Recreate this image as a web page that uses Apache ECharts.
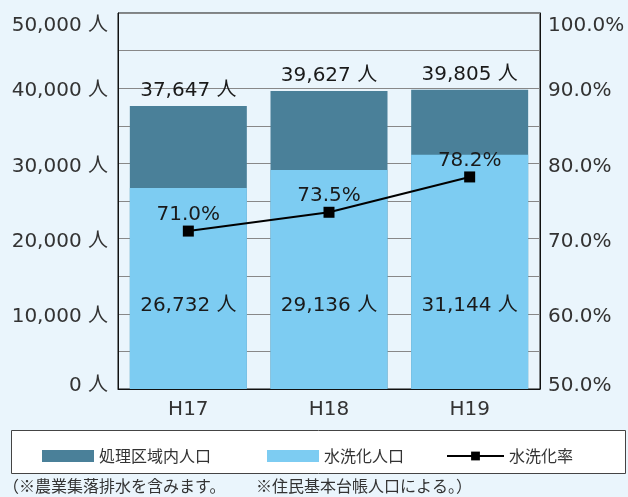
<!DOCTYPE html>
<html>
<head>
<meta charset="utf-8">
<script src="https://cdn.jsdelivr.net/npm/echarts@6/dist/echarts.min.js"></script>
<style>
  html, body { margin: 0; padding: 0; background: #eaf5fc; }
  #chart { width: 628px; height: 497px; }
</style>
</head>
<body>
<div id="chart"></div>
<script>
// data
var years = ['H17', 'H18', 'H19'];
var areaPop = [37647, 39627, 39805];   // 処理区域内人口
var flushPop = [26732, 29136, 31144];  // 水洗化人口
var flushRate = [71.0, 73.5, 78.2];    // 水洗化率 (%)

var numFont = "'DejaVu Sans', 'Noto Sans CJK JP', sans-serif";
var jpFont = "'Noto Sans CJK JP', sans-serif";

function fmtPeople(v) {
  return v.toLocaleString('en-US') + ' 人';
}

// nudge the end labels inward like the original
function tickLabel(text, v, min, max) {
  if (v === max) return '{hi|' + text + '}';
  if (v === min) return '{lo|' + text + '}';
  return '{mid|' + text + '}';
}
var tickRich = {
  hi: { padding: [26, 0, 0, 0] },
  mid: { padding: [6, 0, 0, 0] },
  lo: { padding: [0, 0, 6, 0] }
};

var chart = echarts.init(document.getElementById('chart'));
chart.setOption({
  backgroundColor: '#eaf5fc',
  animation: false,
  grid: {
    left: 118, right: 88, top: 13, bottom: 108,
    show: true,
    borderColor: '#111',
    borderWidth: 1
  },
  legend: [
    {
      data: ['処理区域内人口'], left: 37, top: 443, icon: 'rect',
      itemWidth: 52, itemHeight: 12,
      textStyle: { fontFamily: jpFont, fontSize: 16, color: '#333' }
    },
    {
      data: ['水洗化人口'], left: 262, top: 443, icon: 'rect',
      itemWidth: 52, itemHeight: 12,
      textStyle: { fontFamily: jpFont, fontSize: 16, color: '#333' }
    },
    {
      data: ['水洗化率'], left: 441, top: 443,
      itemWidth: 57, itemHeight: 11,
      textStyle: { fontFamily: jpFont, fontSize: 16, color: '#333' }
    }
  ],
  graphic: [
    {
      type: 'rect', z: -1, left: 11, top: 430,
      shape: { width: 614, height: 43 },
      style: { fill: '#fff', stroke: '#444', lineWidth: 1 }
    },
    {
      type: 'text', left: 3, top: 478,
      style: { text: '（※農業集落排水を含みます。', font: '16px ' + jpFont, fill: '#333' }
    },
    {
      type: 'text', left: 256, top: 478,
      style: { text: '※住民基本台帳人口による。）', font: '16px ' + jpFont, fill: '#333' }
    }
  ],
  xAxis: {
    type: 'category',
    data: years,
    axisLine: { lineStyle: { color: '#111' } },
    axisTick: { inside: true, length: 6, lineStyle: { color: '#111' } },
    axisLabel: { fontFamily: numFont, fontSize: 20, color: '#333', margin: 11 }
  },
  yAxis: [
    {
      type: 'value', min: 0, max: 50000, interval: 10000,
      axisLine: { show: true, lineStyle: { color: '#111' } },
      axisTick: { show: false },
      splitLine: { lineStyle: { color: '#888' } },
      minorTick: { show: false, splitNumber: 2 },
      minorSplitLine: { show: true, lineStyle: { color: '#888' } },
      axisLabel: {
        fontFamily: numFont, fontSize: 20, color: '#333', margin: 10,
        rich: tickRich,
        formatter: function (v) { return tickLabel(fmtPeople(v), v, 0, 50000); }
      }
    },
    {
      type: 'value', min: 50, max: 100, interval: 10,
      axisLine: { show: true, lineStyle: { color: '#111' } },
      axisTick: { show: false },
      splitLine: { show: false },
      axisLabel: {
        fontFamily: numFont, fontSize: 20, color: '#333', margin: 8,
        rich: tickRich,
        formatter: function (v) { return tickLabel(v.toFixed(1) + '%', v, 50, 100); }
      }
    }
  ],
  series: [
    {
      name: '処理区域内人口',
      type: 'bar',
      data: areaPop,
      barWidth: 117,
      barGap: '-100%',
      itemStyle: { color: '#4a8099' },
      label: {
        show: true, position: 'top', distance: 5,
        fontFamily: numFont, fontSize: 20, color: '#1a1a1a',
        formatter: function (p) { return fmtPeople(p.value); }
      }
    },
    {
      name: '水洗化人口',
      type: 'bar',
      data: flushPop,
      barWidth: 117,
      barGap: '-100%',
      itemStyle: { color: '#7dccf2' },
      label: {
        show: true, position: 'insideBottom', distance: 73,
        fontFamily: numFont, fontSize: 20, color: '#1a1a1a',
        formatter: function (p) { return fmtPeople(p.value); }
      }
    },
    {
      name: '水洗化率',
      type: 'line',
      yAxisIndex: 1,
      data: flushRate,
      symbol: 'rect',
      symbolSize: 11,
      itemStyle: { color: '#000' },
      lineStyle: { color: '#000', width: 2 },
      label: {
        show: true, position: 'top', distance: 1,
        fontFamily: numFont, fontSize: 20, color: '#1a1a1a',
        formatter: function (p) { return p.value.toFixed(1) + '%'; }
      }
    }
  ]
});
</script>
</body>
</html>
